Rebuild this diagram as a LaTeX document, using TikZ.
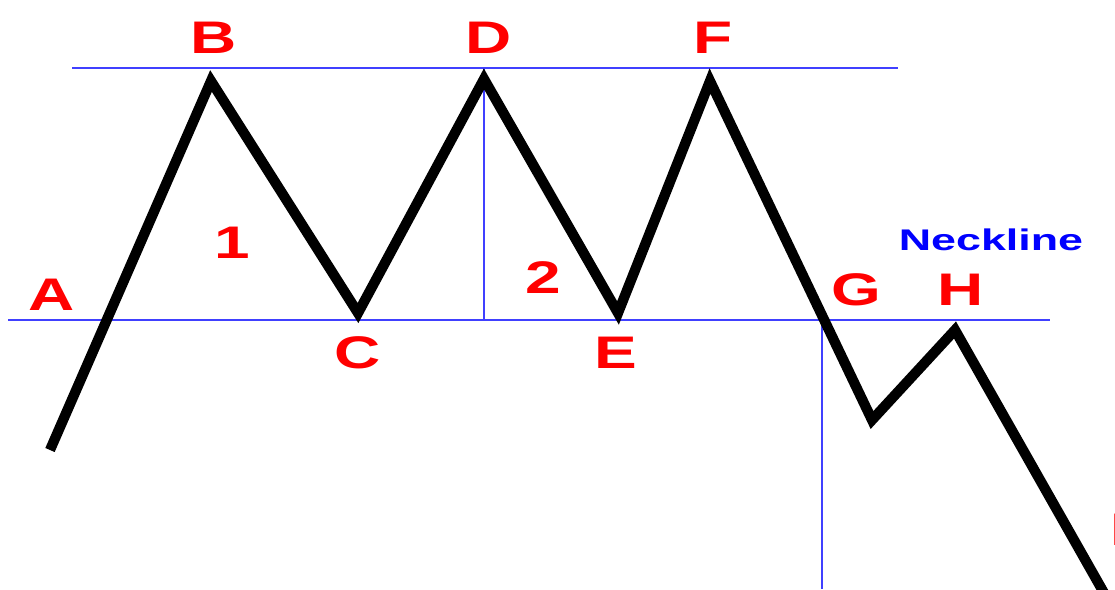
\documentclass[tikz,border=0pt]{standalone}
\usepackage{fontspec}
\setmainfont{Liberation Sans}
\usetikzlibrary{positioning}

\begin{document}
\begin{tikzpicture}[
    x=0.02cm, y=-0.02cm,
    price/.style={line width=5.8pt, black, line join=miter},
    guide/.style={draw=blue!75!white, line width=0.7pt},
    ptlabel/.style={text=red, font=\fontsize{26}{26}\selectfont\bfseries, xscale=1.4, inner sep=0pt},
    necklabel/.style={text=blue, font=\fontsize{17}{17}\selectfont\bfseries, xscale=1.5, inner sep=0pt}
]
\useasboundingbox (0,0) rectangle (1115,589);

% Turning points of the price line
\coordinate (start) at (50,450);
\coordinate (pB) at (211,81);
\coordinate (pC) at (358,313);
\coordinate (pD) at (484,79);
\coordinate (pE) at (618,313);
\coordinate (pF) at (710,81);
\coordinate (low) at (872,420);
\coordinate (pH) at (955,330);
\coordinate (stop) at (1108,600);

% Resistance line, neckline and the two verticals
\draw[guide] (72,68) coordinate (topL) -- (898,68) coordinate (topR);
\draw[guide] (8,320) coordinate (neckL) -- (1050,320) coordinate (neckR);
\draw[guide] (484,68) coordinate (dTop) -- (484,320) coordinate (dBot);
\draw[guide] (822,320) coordinate (gTop) -- (822,589) coordinate (gBot);

% Price line
\draw[price] (start) -- (pB) -- (pC) -- (pD) -- (pE) -- (pF) -- (low) -- (pH) -- (stop);

% Point labels
\foreach \name/\px/\py in {A/52/295, B/214/38, C/358/353, D/489/38, E/616/353, F/713/38, G/856/290, H/961/290, 1/232/243, 2/543/278} {
    \node[ptlabel] (lab\name) at (\px,\py) {\name};
}
\node[ptlabel, anchor=west] (labI) at (1110,530) {I};

\node[necklabel] (neck) at (991,240) {Neckline};

\end{tikzpicture}
\end{document}
